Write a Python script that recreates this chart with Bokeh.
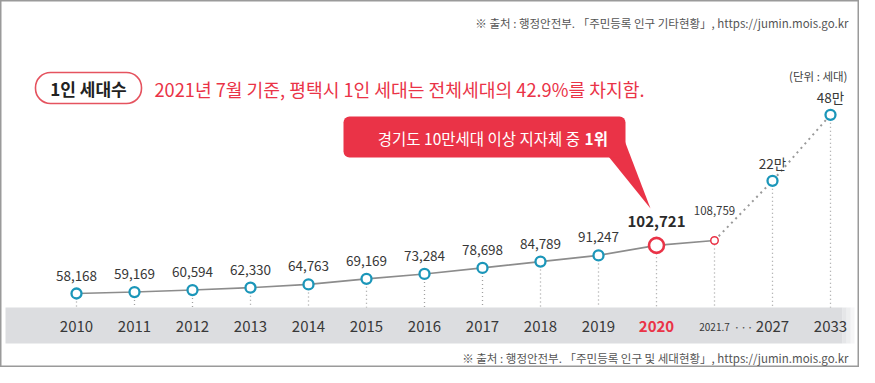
import math
from bokeh.plotting import figure
from bokeh.models import Range1d, LinearScale
from bokeh.embed import file_html
from bokeh.resources import INLINE
from bokeh.core.properties import value

# ---------------- data ----------------
years = ["2010", "2011", "2012", "2013", "2014", "2015", "2016", "2017",
         "2018", "2019", "2020", "2021.7", "2027", "2033"]
households = [58168, 59169, 60594, 62330, 64763, 69169, 73284, 78698,
              84789, 91247, 102721, 108759, 220000, 480000]
source_top = "※ 출처 : 행정안전부. 「주민등록 인구 기타현황」, https://jumin.mois.go.kr"
source_bottom = "※ 출처 : 행정안전부. 「주민등록 인구 및 세대현황」, https://jumin.mois.go.kr"
badge_text = "1인 세대수"
headline = "2021년 7월 기준, 평택시 1인 세대는 전체세대의 42.9%를 차지함."
callout_text = "경기도 10만세대 이상 지자체 중 "
callout_bold = "1위"
unit_text = "(단위 : 세대)"

# ---------------- layout ----------------
FONT = value("Noto Sans CJK KR")
W, H = 859, 367
SLOT = 58.0
FIRST = 76.0
TEAL = "#1b96b9"
RED = "#ea3347"
TXT = "#383838"

lo, hi = 24280.0, 1.8505e6
x0 = -FIRST / SLOT
p = figure(width=W, height=H, x_range=Range1d(x0, x0 + W / SLOT),
           y_range=Range1d(lo, hi), y_axis_type="log",
           output_backend="svg", toolbar_location=None, tools="",
           min_border=0, outline_line_color="#9a9a9a", outline_line_width=2)
p.axis.visible = False
p.grid.visible = False
p.extra_x_ranges = {"px": Range1d(0, W)}
p.extra_y_ranges = {"px": Range1d(H, 0)}
p.extra_x_scales = {"px": LinearScale()}
p.extra_y_scales = {"px": LinearScale()}


def px_to_val(py):
    frac = (H - py) / H
    return 10 ** (math.log10(lo) + frac * (math.log10(hi) - math.log10(lo)))


idx = list(range(len(years)))
band_top, band_bot = 307, 343

# gray band
p.quad(left=5, right=842, top=band_top, bottom=band_bot, fill_color="#dcdde0",
       line_color=None, x_range_name="px", y_range_name="px")
for k, a in enumerate([0.75, 0.5, 0.25]):
    p.quad(left=842 + 4 * k, right=846 + 4 * k, top=band_top, bottom=band_bot,
           fill_color="#dcdde0", fill_alpha=a, line_color=None,
           x_range_name="px", y_range_name="px")

# vertical dotted drops
p.segment(x0=idx, y0=households, x1=idx, y1=px_to_val(band_top),
          line_color="#a0a0a0", line_width=1.3, line_dash="1 3")

# connecting lines
p.line(idx[:12], households[:12], line_color="#8c8c8c", line_width=1.6)
p.line(idx[11:], households[11:], line_color="#9a9a9a", line_width=2,
       line_dash="2 4")

# markers
norm = [i for i in idx if i not in (10, 11)]
p.scatter([idx[i] for i in norm], [households[i] for i in norm], size=10,
          fill_color="white", line_color=TEAL, line_width=2.3)
p.scatter([idx[10]], [households[10]], size=15, fill_color="white",
          line_color=RED, line_width=2.6)
p.scatter([idx[11]], [households[11]], size=7.5, fill_color="white",
          line_color=RED, line_width=1.5)

# value labels
labels = [f"{v:,}" if v < 200000 else f"{v // 10000}만" for v in households]
base = list(range(10)) + [12, 13]
p.text([idx[i] for i in base], [households[i] for i in base],
       text=[labels[i] for i in base], y_offset=-18, text_align="center",
       text_baseline="middle", text_font=FONT, text_font_size="13.5px",
       text_color=TXT)
p.text([idx[10]], [households[10]], text=[labels[10]], y_offset=-24,
       text_align="center", text_baseline="middle", text_font=FONT,
       text_font_size="15px", text_font_style="bold", text_color="#2a2a2a")
p.text([idx[11]], [households[11]], text=[labels[11]], y_offset=-30,
       text_align="center", text_baseline="middle", text_font=FONT,
       text_font_size="11.5px", text_color=TXT)

# year labels on band
yl = [i for i in idx if i not in (10, 11)]
p.text([idx[i] for i in yl], 326, text=[years[i] for i in yl],
       y_range_name="px", text_align="center", text_baseline="middle",
       text_font=FONT, text_font_size="15px", text_color=TXT)
p.text([idx[10]], 326, text=[years[10]], y_range_name="px",
       text_align="center", text_baseline="middle", text_font=FONT,
       text_font_size="15px", text_font_style="bold", text_color=RED)
p.text([idx[11]], 326, text=[years[11]], y_range_name="px",
       text_align="center", text_baseline="middle", text_font=FONT,
       text_font_size="10px", text_color=TXT)
p.text([(idx[11] + idx[12]) / 2], 326, text=["···"],
       y_range_name="px", text_align="center", text_baseline="middle",
       text_font=FONT, text_font_size="12px", text_color="#555555")

# sources
p.text([848], [22], text=[source_top], x_range_name="px", y_range_name="px",
       text_align="right", text_baseline="middle", text_font=FONT,
       text_font_size="11.5px", text_color="#555555")
p.text([848], [357], text=[source_bottom], x_range_name="px",
       y_range_name="px", text_align="right", text_baseline="middle",
       text_font=FONT, text_font_size="11.5px", text_color="#555555")
p.text([847], [75], text=[unit_text], x_range_name="px", y_range_name="px",
       text_align="right", text_baseline="middle", text_font=FONT,
       text_font_size="11.5px", text_color="#444444")

# badge + headline
p.quad(left=35, right=141, top=72, bottom=103, fill_color="white",
       line_color="#e5535f", line_width=1.6, border_radius=15,
       x_range_name="px", y_range_name="px")
p.text([88], [87.5], text=[badge_text], x_range_name="px", y_range_name="px",
       text_align="center", text_baseline="middle", text_font=FONT,
       text_font_size="17px", text_font_style="bold", text_color="#222222")
p.text([154], [88], text=[headline], x_range_name="px", y_range_name="px",
       text_align="left", text_baseline="middle", text_font=FONT,
       text_font_size="18.2px", text_color=RED)

# callout
p.patch([608, 624, 650], [156, 140, 208], fill_color=RED, line_color=None,
        x_range_name="px", y_range_name="px")
p.quad(left=343, right=625, top=116, bottom=157, fill_color=RED,
       line_color=None, border_radius=6, x_range_name="px", y_range_name="px")
p.text([583], [137], text=[callout_text], x_range_name="px",
       y_range_name="px", text_align="right", text_baseline="middle",
       text_font=FONT, text_font_size="15.5px", text_color="white")
p.text([584], [137], text=[callout_bold], x_range_name="px",
       y_range_name="px", text_align="left", text_baseline="middle",
       text_font=FONT, text_font_size="15.5px", text_font_style="bold",
       text_color="white")

open("out.html", "w").write(file_html(p, INLINE))
